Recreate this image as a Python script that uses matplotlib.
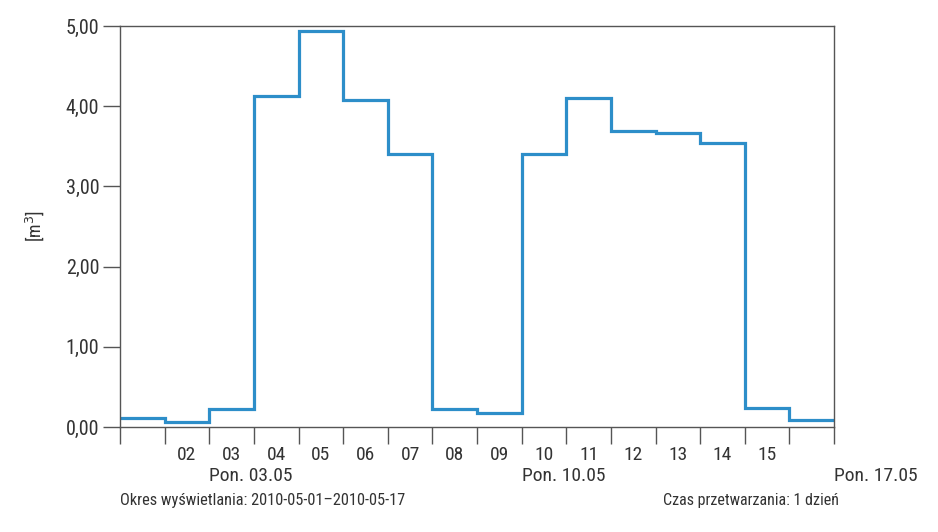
import numpy as np
import matplotlib.pyplot as plt
from matplotlib.transforms import blended_transform_factory

# daily volume, 2010-05-01 .. 2010-05-16
days = ['', '02', '03', '04', '05', '06', '07', '08', '09', '10',
        '11', '12', '13', '14', '15', '']
volume = [0.11, 0.06, 0.23, 4.13, 4.94, 4.08, 3.40, 0.23, 0.18, 3.40,
          4.10, 3.69, 3.67, 3.54, 0.24, 0.09]
mondays = [2, 9, 16]  # day index where the week starts
monday_labels = ['Pon. 03.05', 'Pon. 10.05', 'Pon. 17.05']
y_ticks = [0, 1, 2, 3, 4, 5]

font = ['Roboto Condensed', 'Liberation Sans Narrow', 'DejaVu Sans']
st = 'condensed'
txt = '#333333'
axc = '#555555'

fig = plt.figure(figsize=(9.38, 5.32), dpi=100)
ax = fig.add_axes([120 / 938, 105 / 532, 714 / 938, 401 / 532])

edges = np.arange(len(volume) + 1)
ax.stairs(volume, edges, color='#2d8ec9', linewidth=2.3, baseline=None)

ax.set_xlim(0, len(volume))
ax.set_ylim(0, 5)

for s in ax.spines.values():
    s.set_color(axc)
    s.set_linewidth(1.0)

ax.set_xticks(edges)
ax.set_xticklabels([])
ax.tick_params(axis='x', which='major', length=12, width=1, color=axc, direction='out')
ax.set_xticks(edges[:-1] + 0.5, minor=True)
ax.set_xticklabels(days, minor=True, fontsize=14, color=txt, family=font, stretch=st)
ax.tick_params(axis='x', which='minor', length=0, pad=14)

ax.set_yticks(y_ticks)
ax.set_yticklabels([f'{v:.2f}'.replace('.', ',') for v in y_ticks],
                   fontsize=14.5, color=txt, family=font, stretch=st)
ax.tick_params(axis='y', length=12, width=1, color=axc, pad=3)

ax.set_ylabel('[m$^3$]', fontsize=13, color=txt, family=font, stretch=st, labelpad=14)

tr = blended_transform_factory(ax.transData, fig.transFigure)
for d, lab in zip(mondays, monday_labels):
    ax.text(d, 1 - 476 / 532, lab, transform=tr, ha='left', va='center',
            fontsize=14, color=txt, family=font, stretch=st)

fig.text(120 / 938, 1 - 500 / 532, 'Okres wyświetlania: 2010-05-01–2010-05-17',
         ha='left', va='center', fontsize=11.8, color=txt, family=font, stretch=st)
fig.text(839 / 938, 1 - 500 / 532, 'Czas przetwarzania: 1 dzień',
         ha='right', va='center', fontsize=11.5, color=txt, family=font, stretch=st)

fig.savefig('out.png', dpi=100)
